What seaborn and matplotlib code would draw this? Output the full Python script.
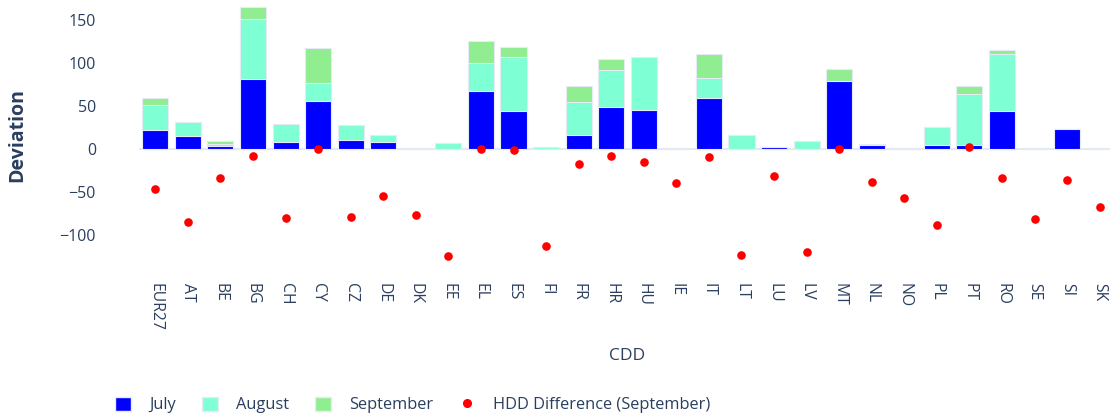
import numpy as np
import pandas as pd
import matplotlib
matplotlib.use("Agg")
import matplotlib.pyplot as plt
from matplotlib.patches import Patch
from matplotlib.lines import Line2D
import seaborn as sns

countries = ["EUR27", "AT", "BE", "BG", "CH", "CY", "CZ", "DE", "DK", "EE",
             "EL", "ES", "FI", "FR", "HR", "HU", "IE", "IT", "LT", "LU",
             "LV", "MT", "NL", "NO", "PL", "PT", "RO", "SE", "SI", "SK"]
july = [22, 15, 3, 81, 8, 56, 10, 7.5, 0, 0,
        67, 44, 0, 16, 49, 45, 0, 59.5, 0, 1.5,
        0, 78.5, 4, 0, 4, 4, 44, 0, 23.5, 0]
august = [29, 16.5, 2, 70, 21, 20, 18, 9, 0, 6.5,
          33, 63, 1.5, 38, 43, 62, 0, 22.5, 16.5, 0,
          9, 0, 0, 0, 21, 59.5, 66, 0, 0, 0]
september = [8, 0, 4, 14, 0, 41, 0, 0, 0, 0,
             25, 12, 0, 19.5, 12.5, 0, 0, 28.5, 0, 0,
             0, 14.5, 2, 0, 0, 9.5, 4.5, 0, 0, 0]
hdd_sep = [-47, -85.5, -34.5, -8.5, -81, 0, -80, -55, -77, -124.5,
           0, -2, -113, -17.5, -8.5, -15, -40, -10, -123.5, -32,
           -120.5, 0, -39, -57, -88.5, 2, -33.5, -81.5, -36, -68]

df = pd.DataFrame({"country": countries, "July": july, "August": august,
                   "September": september, "HDD": hdd_sep})
df["jul_aug"] = df["July"] + df["August"]
df["total"] = df["jul_aug"] + df["September"]

c_jul = "#0000ff"
c_aug = "#7fffd4"
c_sep = "#90ee90"
txt = "#2a3f5f"

sns.set_theme(style="white")
plt.rcParams["font.family"] = ["Open Sans", "DejaVu Sans"]

W, H = 1110, 419
fig = plt.figure(figsize=(W / 100, H / 100), dpi=100)
left, right, top, bottom = 139, 1116, 1, 269
ax = fig.add_axes([left / W, 1 - bottom / H, (right - left) / W, (bottom - top) / H])

ax.axhline(0, color="#e3e8f4", lw=1.5, zorder=0)

# stacked bars drawn as overlapping cumulative sums
edge = dict(edgecolor="#e5ecf6", linewidth=0.8)
sns.barplot(data=df, x="country", y="total", color=c_sep, saturation=1, ax=ax, zorder=2, **edge)
sns.barplot(data=df, x="country", y="jul_aug", color=c_aug, saturation=1, ax=ax, zorder=2, **edge)
sns.barplot(data=df, x="country", y="July", color=c_jul, saturation=1, ax=ax, zorder=2, **edge)
sns.stripplot(data=df, x="country", y="HDD", jitter=False, color="red", size=6.2,
              linewidth=0, ax=ax, zorder=3)

ax.set_xlim(-0.5, 29.5)
ax.set_ylim(-140, 172)
ax.set_yticks([-100, -50, 0, 50, 100, 150])
sns.despine(ax=ax, left=True, bottom=True)

ax.tick_params(axis="y", length=0, pad=31, labelsize=11.5, labelcolor=txt)
ax.tick_params(axis="x", length=0, pad=10, labelsize=11.3, labelcolor=txt)
for lab in ax.get_xticklabels():
    lab.set_rotation(270)
    lab.set_ha("center")
    lab.set_va("top")

ax.set_ylabel("Deviation", fontsize=14, fontweight="bold", color=txt)
ax.set_xlabel("CDD", fontsize=12.5, color=txt)
ax_h = bottom - top
ax.yaxis.set_label_coords((27 - left) / (right - left), 0.5)
ax.xaxis.set_label_coords((627 - left) / (right - left), -(348 - bottom) / ax_h)

handles = [Patch(facecolor=c_jul, edgecolor="#e5ecf6"),
           Patch(facecolor=c_aug, edgecolor="#e5ecf6"),
           Patch(facecolor=c_sep, edgecolor="#e5ecf6"),
           Line2D([], [], ls="", marker="o", color="red", markersize=5.5)]
labels = ["July", "August", "September", "HDD Difference (September)"]
leg = fig.legend(handles, labels, loc="center left", ncol=4,
                 bbox_to_anchor=(115 / W, 1 - 405 / H), frameon=False,
                 borderaxespad=0, borderpad=0, fontsize=11.8,
                 handlelength=1.0, handleheight=1.0, handletextpad=1.1,
                 columnspacing=1.55)
for t in leg.get_texts():
    t.set_color(txt)

fig.savefig("out.png", dpi=100)
